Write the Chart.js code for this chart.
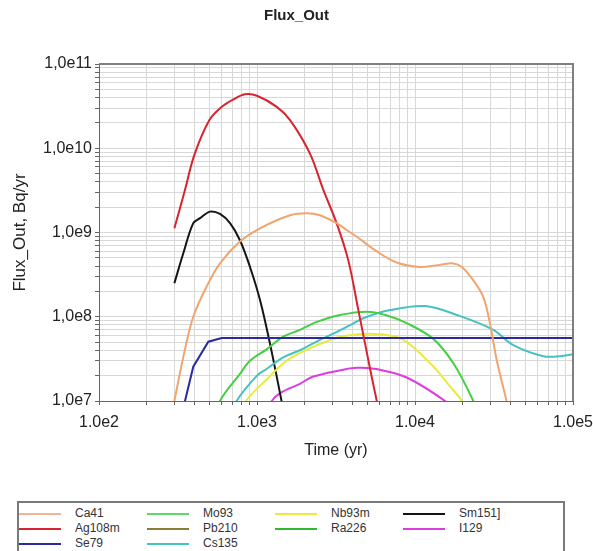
<!DOCTYPE html>
<html>
<head>
<meta charset="utf-8">
<script src="https://cdn.jsdelivr.net/npm/chart.js@4.4.1/dist/chart.umd.min.js"></script>
<style>
  body { margin: 0; background: #fff; font-family: "Liberation Sans", Arial, sans-serif; }
  #wrap { position: absolute; left: 0; top: 0; width: 593px; height: 470px; }
  #legend {
    position: absolute; left: 17px; top: 501px; width: 548px; height: 60px;
    border: 2px solid #7a7a7a; box-sizing: border-box;
  }
  .item { position: absolute; height: 15px; font-size: 12px; color: #333; }
  .item .sw { position: absolute; left: 0; top: 7px; width: 42px; height: 2px; }
  .item span { position: absolute; left: 56px; top: 0; line-height: 15px; white-space: nowrap; }
</style>
</head>
<body>
<div id="wrap"><canvas id="chart"></canvas></div>
<div id="legend"></div>
<script>
// time (yr) and flux (Bq/yr) per nuclide
const ca41T = [300, 342, 395, 481, 583, 780, 1045, 1620, 2070, 2500, 3190, 3700, 4280, 5710, 7650, 10700, 14000, 17500, 19800, 23400, 27000, 29800, 32900, 38000];
const ca41V = [1e7, 3.36e7, 1e8, 2.3e8, 4.3e8, 7.8e8, 1.12e9, 1.6e9, 1.69e9, 1.6e9, 1.29e9, 1.07e9, 8.9e8, 6e8, 4.4e8, 3.9e8, 4.1e8, 4.3e8, 3.9e8, 2.7e8, 1.73e8, 8.4e7, 3.07e7, 1e7];

const ag108mT = [300, 350, 401, 500, 599, 700, 839, 1000, 1334, 1620, 2160, 2630, 3190, 3780, 4380, 4830, 5320, 5730, 6200];
const ag108mV = [1.12e9, 3.2e9, 8.3e9, 2.16e10, 3.1e10, 3.75e10, 4.37e10, 4.2e10, 3.1e10, 2.16e10, 8.7e9, 3.2e9, 1.29e9, 4.7e8, 1.2e8, 4.8e7, 1.94e7, 1e7, 5e6];

const se79T = [300, 395, 492, 598, 100000];
const se79V = [3e6, 2.55e7, 5.06e7, 5.6e7, 5.6e7];

const mo93T = [500, 583, 780, 903, 1150, 1465, 1870, 2390, 3350, 4950, 6500, 8850, 13000, 17500, 23400, 26000];
const mo93V = [4e6, 1e7, 2.1e7, 3e7, 4.1e7, 5.8e7, 7e7, 8.7e7, 1.05e8, 1.15e8, 1.05e8, 8.4e7, 5.5e7, 2.8e7, 1e7, 6e6];

const pb210T = [];
const pb210V = [];

const cs135T = [600, 743, 1000, 1150, 1465, 1870, 2500, 3040, 3880, 4710, 6950, 11600, 18400, 31300, 41900, 64900, 83000, 100000];
const cs135V = [4e6, 1e7, 2e7, 2.4e7, 3.3e7, 4e7, 5.3e7, 6.3e7, 7.95e7, 9.6e7, 1.2e8, 1.34e8, 1.05e8, 7e7, 4.6e7, 3.4e7, 3.4e7, 3.6e7];

const nb93mT = [700, 850, 1150, 1620, 2900, 4000, 6000, 8440, 13100, 16700, 19800, 22000];
const nb93mV = [5e6, 1e7, 1.8e7, 3.2e7, 5.3e7, 6.1e7, 6.2e7, 5.3e7, 2.55e7, 1.48e7, 1e7, 6e6];

const ra226T = [];
const ra226V = [];

const sm151T = [300, 342, 395, 436, 504, 583, 675, 780, 903, 1045, 1208, 1430, 1500];
const sm151V = [2.5e8, 5.7e8, 1.29e9, 1.48e9, 1.77e9, 1.66e9, 1.29e9, 8.1e8, 3.9e8, 1.58e8, 4.8e7, 1e7, 6e6];

const i129T = [1100, 1240, 1400, 1870, 2270, 3880, 4490, 6000, 8870, 15500, 17000];
const i129V = [6e6, 1e7, 1.24e7, 1.6e7, 1.95e7, 2.44e7, 2.48e7, 2.35e7, 1.9e7, 1e7, 8e6];

const xTickLabels = ["1.0e2", "1.0e3", "1.0e4", "1.0e5"];
const yTickLabels = ["1,0e7", "1,0e8", "1,0e9", "1,0e10", "1,0e11"];

// col/row = place in the legend box
const series = [
  { label: "Ca41",   t: ca41T,   v: ca41V,   color: "#f2a46e", legendColor: "#f0b495", col: 0, row: 0 },
  { label: "Ag108m", t: ag108mT, v: ag108mV, color: "#d9232e", col: 0, row: 1 },
  { label: "Se79",   t: se79T,   v: se79V,   color: "#2a2a9c", straight: true, col: 0, row: 2 },
  { label: "Mo93",   t: mo93T,   v: mo93V,   color: "#46cf46", legendColor: "#5fd86f", col: 1, row: 0 },
  { label: "Pb210",  t: pb210T,  v: pb210V,  color: "#8b7d35", col: 1, row: 1 },
  { label: "Cs135",  t: cs135T,  v: cs135V,  color: "#44c2c2", col: 1, row: 2 },
  { label: "Nb93m",  t: nb93mT,  v: nb93mV,  color: "#eaea3c", col: 2, row: 0 },
  { label: "Ra226",  t: ra226T,  v: ra226V,  color: "#32b832", col: 2, row: 1 },
  { label: "Sm151]", t: sm151T,  v: sm151V,  color: "#151515", col: 3, row: 0 },
  { label: "I129",   t: i129T,   v: i129V,   color: "#dd3ddd", col: 3, row: 1 }
];

const datasets = series.map(s => ({
  label: s.label,
  data: s.t.map((t, i) => ({ x: t, y: s.v[i] })),
  borderColor: s.color,
  borderWidth: 2,
  pointRadius: 0,
  fill: false,
  tension: s.straight ? 0 : 0.35
}));

function logTicks(lo, hi) {
  const out = [];
  for (let e = lo; e < hi; e++) {
    for (let m = 1; m <= 9; m++) out.push(m * Math.pow(10, e));
  }
  out.push(Math.pow(10, hi));
  return out;
}
function decadeLabel(value, lo, labels) {
  const e = Math.log10(value);
  const r = Math.round(e);
  if (Math.abs(e - r) < 1e-9) return labels[r - lo] || "";
  return "";
}

// frame on top and right of the plot area
const framePlugin = {
  id: "frame",
  afterDraw(chart) {
    const { ctx, chartArea: a } = chart;
    ctx.save();
    ctx.strokeStyle = "#808080";
    ctx.lineWidth = 2;
    ctx.beginPath();
    ctx.moveTo(a.left, a.top);
    ctx.lineTo(a.right, a.top);
    ctx.lineTo(a.right, a.bottom);
    ctx.stroke();
    ctx.restore();
  }
};

const font = "'Liberation Sans', Arial, sans-serif";

new Chart(document.getElementById("chart").getContext("2d"), {
  type: "line",
  data: { datasets },
  plugins: [framePlugin],
  options: {
    responsive: true,
    maintainAspectRatio: false,
    animation: false,
    layout: { padding: 0 },
    plugins: {
      legend: { display: false },
      tooltip: { enabled: false },
      title: {
        display: true,
        text: "Flux_Out",
        color: "#222",
        font: { family: font, size: 15, weight: "bold", lineHeight: 1.2 },
        padding: { top: 7, bottom: 39 }
      }
    },
    scales: {
      x: {
        type: "logarithmic",
        min: 100,
        max: 100000,
        afterBuildTicks: sc => { sc.ticks = logTicks(2, 5).map(v => ({ value: v })); },
        afterFit: sc => { sc.height = 69; sc.paddingLeft = 0; sc.paddingRight = 20; },
        ticks: {
          autoSkip: false, maxRotation: 0, padding: 8, color: "#222",
          font: { family: font, size: 16 },
          callback: v => decadeLabel(v, 2, xTickLabels)
        },
        grid: { color: "#d8d8d8", lineWidth: 1, tickLength: 4, tickColor: "#666" },
        border: { color: "#666", width: 1 },
        title: {
          display: true, text: "Time (yr)", color: "#222",
          font: { family: font, size: 16, lineHeight: 1.2 },
          padding: { top: 0, bottom: 10 }
        }
      },
      y: {
        type: "logarithmic",
        min: 1e7,
        max: 1e11,
        afterBuildTicks: sc => { sc.ticks = logTicks(7, 11).map(v => ({ value: v })); },
        afterFit: sc => { sc.width = 99; sc.paddingTop = 0; sc.paddingBottom = 0; },
        ticks: {
          autoSkip: false, padding: 3, color: "#222",
          font: { family: font, size: 16 },
          callback: v => decadeLabel(v, 7, yTickLabels)
        },
        grid: { color: "#d8d8d8", lineWidth: 1, tickLength: 4, tickColor: "#666" },
        border: { color: "#666", width: 1 },
        title: {
          display: true, text: "Flux_Out, Bq/yr", color: "#222",
          font: { family: font, size: 17, lineHeight: 1.2 },
          padding: { top: 10, bottom: 0 }
        }
      }
    }
  }
});

// legend box, filled column by column
const legend = document.getElementById("legend");
series.forEach(s => {
  const d = document.createElement("div");
  d.className = "item";
  d.style.left = (s.col * 128) + "px";
  d.style.top = (3 + s.row * 15) + "px";
  d.innerHTML = '<div class="sw" style="background:' + (s.legendColor || s.color) + '"></div><span>' + s.label + '</span>';
  legend.appendChild(d);
});
</script>
</body>
</html>
